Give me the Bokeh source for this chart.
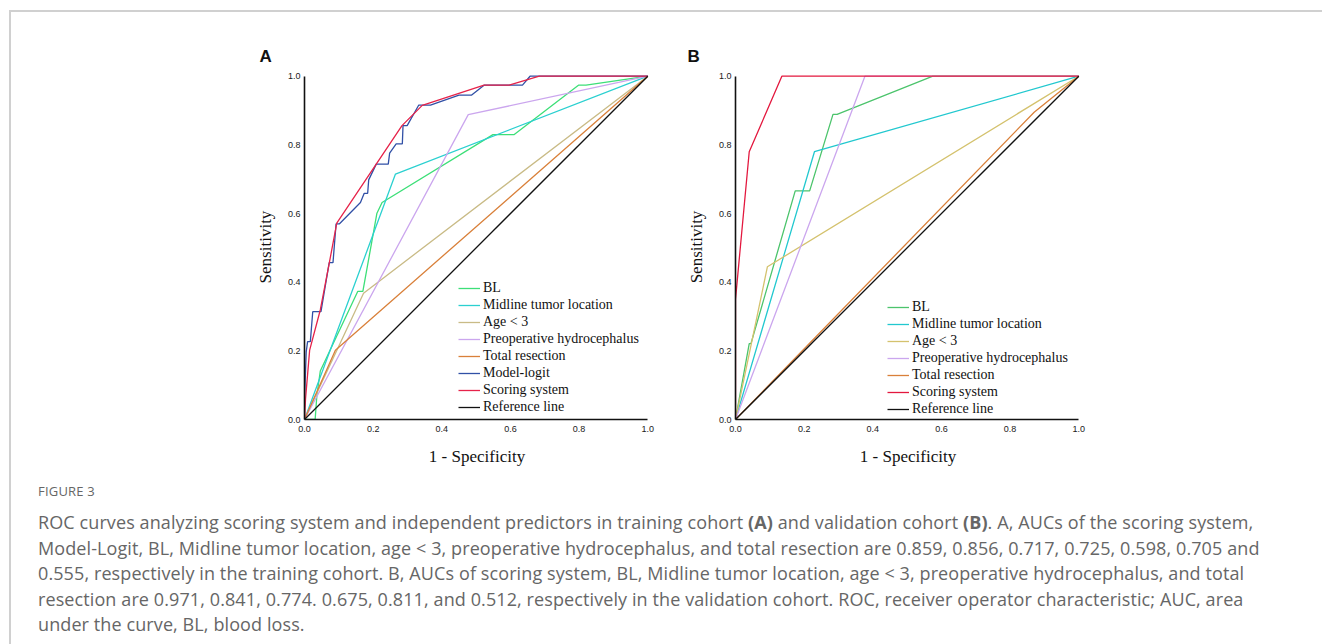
from bokeh.plotting import figure
from bokeh.models import Range1d, FixedTicker, PrintfTickFormatter, Title, Div
from bokeh.layouts import row, column
from bokeh.embed import file_html
from bokeh.resources import INLINE

TICKS = [0.0, 0.2, 0.4, 0.6, 0.8, 1.0]

# ---------- Panel A : training cohort ----------
A_bl_x = [0, 0.031, 0.036, 0.046, 0.155, 0.17, 0.211, 0.226, 0.549, 0.611, 0.798, 0.82, 1]
A_bl_y = [0, 0, 0.07, 0.141, 0.373, 0.373, 0.601, 0.632, 0.83, 0.83, 0.974, 0.974, 1]
A_mid_x = [0, 0.265, 1]
A_mid_y = [0, 0.715, 1]
A_age_x = [0, 0.172, 1]
A_age_y = [0, 0.368, 1]
A_hyd_x = [0, 0.477, 1]
A_hyd_y = [0, 0.888, 1]
A_tot_x = [0, 0.09, 1]
A_tot_y = [0, 0.202, 1]
A_mod_x = [0, 0, 0.005, 0.009, 0.017, 0.024, 0.048, 0.072, 0.083, 0.092, 0.102, 0.163, 0.174,
           0.184, 0.187, 0.209, 0.244, 0.248, 0.267, 0.285, 0.287, 0.299, 0.333, 0.367, 0.45,
           0.487, 0.523, 0.635, 0.657, 1]
A_mod_y = [0, 0.056, 0.197, 0.227, 0.227, 0.314, 0.314, 0.457, 0.457, 0.570, 0.570, 0.632, 0.659,
           0.659, 0.698, 0.744, 0.744, 0.776, 0.803, 0.803, 0.856, 0.856, 0.916, 0.916, 0.945,
           0.945, 0.974, 0.974, 1.0, 1.0]
A_sco_x = [0, 0.003, 0.015, 0.046, 0.072, 0.094, 0.284, 0.343, 0.523, 0.596, 0.684, 1]
A_sco_y = [0, 0.06, 0.202, 0.319, 0.455, 0.572, 0.856, 0.915, 0.974, 0.974, 1.0, 1.0]

# ---------- Panel B : validation cohort ----------
B_bl_x = [0, 0.04, 0.045, 0.174, 0.216, 0.284, 0.296, 0.575, 1]
B_bl_y = [0, 0.221, 0.221, 0.666, 0.666, 0.889, 0.889, 1, 1]
B_mid_x = [0, 0.23, 1]
B_mid_y = [0, 0.78, 1]
B_age_x = [0, 0.093, 1]
B_age_y = [0, 0.445, 1]
B_hyd_x = [0, 0.377, 1]
B_hyd_y = [0, 1, 1]
B_tot_x = [0, 0.87, 1]
B_tot_y = [0, 0.895, 1]
B_sco_x = [0, 0, 0.04, 0.135, 1]
B_sco_y = [0, 0.35, 0.78, 1, 1]

REF_X = [0, 1]
REF_Y = [0, 1]

SERIF = "Liberation Serif"
SANS = "Liberation Sans"


def make_panel(letter, series, left, right, legend_loc, letter_offset):
    p = figure(width=left + 345 + right, height=62 + 345 + 55,
               x_range=Range1d(0, 1.005), y_range=Range1d(0, 1.005),
               output_backend="svg", toolbar_location=None, title_location=None,
               min_border_left=left, min_border_right=right,
               min_border_top=62, min_border_bottom=55)
    p.outline_line_color = None
    p.xgrid.visible = False
    p.ygrid.visible = False
    for ax in (p.xaxis[0], p.yaxis[0]):
        ax.ticker = FixedTicker(ticks=TICKS)
        ax.formatter = PrintfTickFormatter(format="%.1f")
        ax.bounds = (0, 1)
        ax.major_tick_in = 0
        ax.major_tick_out = 0
        ax.minor_tick_in = 0
        ax.minor_tick_out = 0
        ax.axis_line_color = "#111111"
        ax.axis_line_width = 1.6
        ax.major_label_text_font = SANS
        ax.major_label_text_font_size = "9px"
        ax.major_label_text_color = "#1a1a1a"
        ax.axis_label_text_font = SERIF
        ax.axis_label_text_font_size = "17px"
        ax.axis_label_text_font_style = "normal"
        ax.axis_label_text_color = "#111111"
    p.xaxis.axis_label = "1 - Specificity"
    p.yaxis.axis_label = "Sensitivity"
    p.xaxis.major_label_standoff = 6
    p.yaxis.major_label_standoff = 4
    p.xaxis.axis_label_standoff = 12
    p.yaxis.axis_label_standoff = 10

    for label, xs, ys, color in series:
        p.line(xs, ys, line_color=color, line_width=1.3, legend_label=label)

    lg = p.legend[0]
    lg.location = legend_loc
    lg.padding = 0
    lg.margin = 0
    lg.spacing = 1
    lg.border_line_color = None
    lg.background_fill_alpha = 0
    lg.glyph_width = 22
    lg.glyph_height = 16
    lg.label_height = 16
    lg.label_standoff = 3
    lg.label_text_font = SERIF
    lg.label_text_font_size = "14px"
    lg.label_text_color = "#111111"

    p.add_layout(Title(text=letter, align="left", offset=letter_offset, standoff=17,
                       text_font=SANS, text_font_size="17px", text_font_style="bold",
                       text_color="#111111"), "above")
    return p


seriesA = [
    ("BL", A_bl_x, A_bl_y, "#3ddf78"),
    ("Midline tumor location", A_mid_x, A_mid_y, "#2bd0d0"),
    ("Age < 3", A_age_x, A_age_y, "#c9bb86"),
    ("Preoperative hydrocephalus", A_hyd_x, A_hyd_y, "#cba6ee"),
    ("Total resection", A_tot_x, A_tot_y, "#d9803a"),
    ("Model-logit", A_mod_x, A_mod_y, "#3150a6"),
    ("Scoring system", A_sco_x, A_sco_y, "#e6234a"),
    ("Reference line", REF_X, REF_Y, "#111111"),
]
seriesB = [
    ("BL", B_bl_x, B_bl_y, "#4cc46c"),
    ("Midline tumor location", B_mid_x, B_mid_y, "#22c8cf"),
    ("Age < 3", B_age_x, B_age_y, "#d4c26e"),
    ("Preoperative hydrocephalus", B_hyd_x, B_hyd_y, "#cba6ee"),
    ("Total resection", B_tot_x, B_tot_y, "#d9803a"),
    ("Scoring system", B_sco_x, B_sco_y, "#e3183e"),
    ("Reference line", REF_X, REF_Y, "#111111"),
]

pA = make_panel("A", seriesA, 293, 30, (154, 4), -45)
pB = make_panel("B", seriesB, 56, 186, (152, 2), -48)

caption_html = """
<div style="position:fixed; left:9px; top:10px; width:3000px; height:3000px;
 border-left:2px solid #d0d0d0; border-top:2px solid #d0d0d0; pointer-events:none;"></div>
<div style="font-family:'Open Sans',sans-serif; color:#666666; padding-left:22px; white-space:nowrap;">
<div style="font-size:13px; line-height:20px; margin-top:2px; letter-spacing:0.2px;">FIGURE 3</div>
<div style="font-size:18px; line-height:25.6px; margin-top:9px; letter-spacing:0.1px;">
ROC curves analyzing scoring system and independent predictors in training cohort <b>(A)</b> and validation cohort <b>(B)</b>. A, AUCs of the scoring system,<br>
Model-Logit, BL, Midline tumor location, age &lt; 3, preoperative hydrocephalus, and total resection are 0.859, 0.856, 0.717, 0.725, 0.598, 0.705 and<br>
0.555, respectively in the training cohort. B, AUCs of scoring system, BL, Midline tumor location, age &lt; 3, preoperative hydrocephalus, and total<br>
resection are 0.971, 0.841, 0.774. 0.675, 0.811, and 0.512, respectively in the validation cohort. ROC, receiver operator characteristic; AUC, area<br>
under the curve, BL, blood loss.
</div>
</div>
"""
caption = Div(text=caption_html, width=1290, height=158)

layout = column(row(pA, pB), caption, styles={"margin-left": "11px", "margin-top": "12px"})

open("out.html", "w").write(file_html(layout, INLINE))
